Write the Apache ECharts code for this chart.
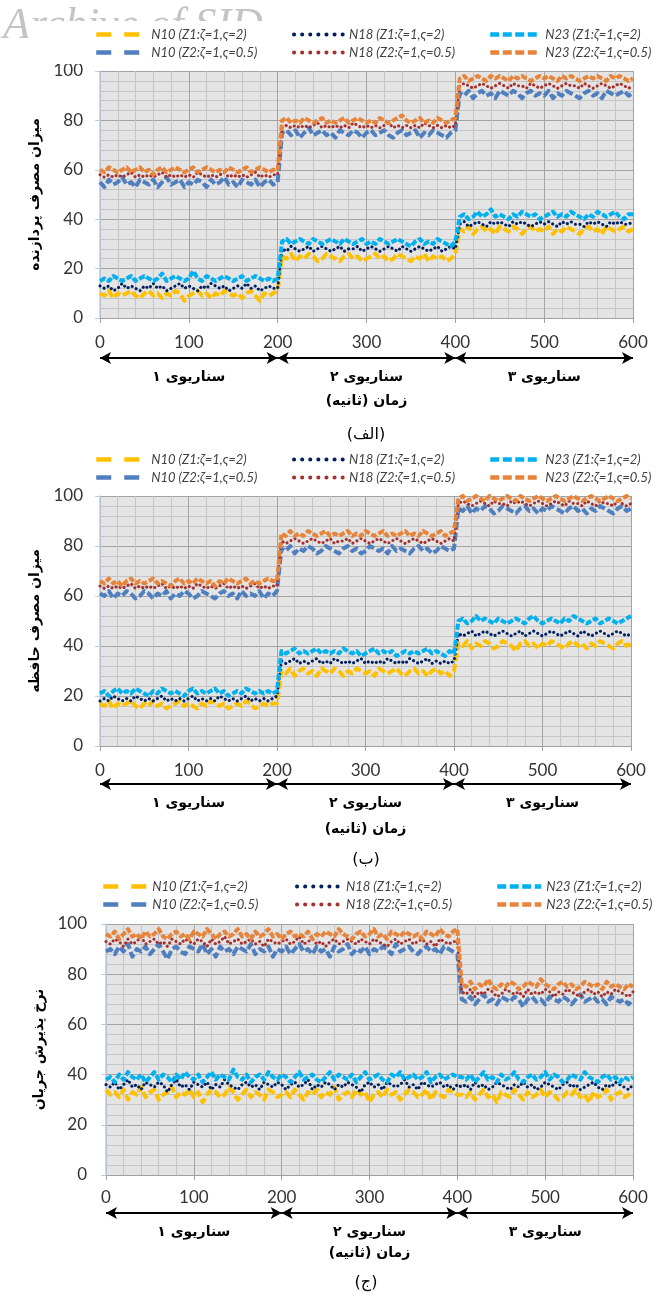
<!DOCTYPE html>
<html><head><meta charset="utf-8">
<script src="https://cdn.jsdelivr.net/npm/echarts/dist/echarts.min.js"></script>
<style>html,body{margin:0;padding:0;background:#fff}#c{width:657px;height:1303px}</style>
</head><body><div id="c"></div>
<script>
// ---------- DATA ----------
const time = [0,5,10,15,20,25,30,35,40,45,50,55,60,65,70,75,80,85,90,95,100,105,110,115,120,125,130,135,140,145,150,155,160,165,170,175,180,185,190,195,200,205,210,215,220,225,230,235,240,245,250,255,260,265,270,275,280,285,290,295,300,305,310,315,320,325,330,335,340,345,350,355,360,365,370,375,380,385,390,395,400,405,410,415,420,425,430,435,440,445,450,455,460,465,470,475,480,485,490,495,500,505,510,515,520,525,530,535,540,545,550,555,560,565,570,575,580,585,590,595,600];

const seriesNames = ['N10 (Z1:ζ=1,ς=2)','N18 (Z1:ζ=1,ς=2)','N23 (Z1:ζ=1,ς=2)','N10 (Z2:ζ=1,ς=0.5)','N18 (Z2:ζ=1,ς=0.5)','N23 (Z2:ζ=1,ς=0.5)'];
const xTicks = [0,100,200,300,400,500,600];
const yTicks = [0,20,40,60,80,100];
const scenarioBounds = [0,200,400,600];
const scenarioNames = ['سناریوی ۱','سناریوی ۲','سناریوی ۳'];
const xAxisName = '\u200Fزمان (ثانیه)\u200F';
const yAxisNames = ['میزان مصرف پردازنده','میزان مصرف حافظه','نرخ پذیرش جریان'];
const captions = ['(الف)','(ب)','(ج)'];

// Chart (الف) CPU usage
const cpuN10Z1 = [10,9,11,8,10,9,10,11,9,8, 10,11,9,10,8,10,9,11,10,7, 9,10,11,9,10,8,10,9,11,10, 9,10,8,10,11,9,7,10,9,10, 11,
 25,24,26,23,25,24,26,25,23,24, 26,25,24,23,25,26,24,25,23,24, 25,26,24,25,23,24,26,25,24,23, 25,24,26,23,25,24,25,23,24,26,
 36,35,37,34,36,37,35,36,34,37, 36,35,37,36,34,36,37,35,36,35, 37,34,36,35,37,36,35,34,36,37, 35,36,34,37,36,35,36,37,35,36];
const cpuN18Z1 = [13,12,13,11,12,14,12,13,12,11, 13,12,14,12,13,11,12,13,14,12, 13,12,11,13,12,14,13,12,13,11, 12,13,12,14,12,13,11,12,13,12, 12,
 28,27,29,28,27,28,29,27,28,29, 28,27,28,29,27,28,28,29,27,28, 29,28,27,28,29,28,27,29,28,27, 28,29,28,27,28,29,27,28,29,28,
 38,39,37,38,39,38,37,39,38,39, 38,37,39,38,39,38,37,38,39,38, 39,38,37,39,38,39,38,38,37,39, 38,39,38,37,39,38,39,38,38,39];
const cpuN23Z1 = [15,16,15,17,16,15,16,17,15,16, 17,16,15,16,18,15,16,17,16,15, 16,19,16,15,17,16,15,16,17,16, 15,16,17,15,16,17,16,15,16,15, 16,
 31,32,30,31,32,31,30,32,31,30, 31,32,31,30,32,31,30,31,32,30, 31,30,32,31,30,31,32,31,30,29, 31,32,30,31,30,32,31,30,29,31,
 41,42,40,41,43,41,42,44,41,42, 41,40,42,41,43,42,41,42,40,41, 42,43,41,42,41,43,42,41,40,42, 41,43,42,41,42,43,41,40,42,42];
const cpuN10Z2 = [55,53,56,54,55,57,54,55,53,56, 55,54,56,53,55,57,54,55,56,53, 55,54,56,55,53,56,54,55,57,54, 55,53,56,55,54,56,53,55,56,54, 55,
 75,76,74,76,73,75,77,74,75,76, 74,75,73,76,75,74,76,75,73,75, 76,74,75,76,74,73,75,76,74,75, 76,73,75,74,76,75,74,73,75,76,
 91,90,92,89,91,92,90,91,89,92, 91,90,92,91,89,91,92,90,91,90, 92,89,91,90,92,91,90,89,91,92, 90,91,89,92,91,90,91,92,90,91];
const cpuN18Z2 = [58,57,58,57,58,57,58,59,57,58, 57,58,57,58,59,57,58,57,58,57, 58,57,59,58,57,58,57,58,59,57, 58,57,58,57,58,59,57,58,57,58, 58,
 77,78,77,78,77,78,77,78,79,77, 78,77,78,77,78,77,79,78,77,78, 77,78,77,78,79,77,78,77,78,77, 78,77,79,78,77,78,77,78,77,78,
 94,95,94,93,94,95,94,93,94,95, 94,93,95,94,94,93,95,94,93,94, 95,94,93,94,95,94,94,93,95,94, 93,94,95,94,93,94,95,94,93,94];
const cpuN23Z2 = [60,59,61,60,59,60,61,59,60,61, 59,60,58,60,61,59,60,61,60,59, 60,61,59,60,61,60,59,60,59,61, 60,59,60,61,59,60,61,60,59,60, 60,
 80,81,79,80,79,81,80,79,80,81, 79,80,79,80,81,79,80,81,80,79, 80,79,81,80,79,80,81,82,80,79, 80,81,79,80,79,81,80,79,80,81,
 97,98,96,97,98,97,96,98,97,98, 97,96,98,97,98,97,96,97,98,97, 98,97,96,98,97,98,97,96,97,98, 97,98,97,96,98,97,98,97,96,97];

// Chart (ب) memory usage
const memN10Z1 = [17,16,18,15,17,16,17,18,16,15, 17,16,18,16,17,15,16,17,18,16, 17,16,15,17,16,18,17,16,17,15, 16,17,16,18,17,15,16,17,16,17, 17,
 30,29,31,28,30,31,29,30,28,31, 30,29,31,30,28,30,29,31,30,29, 30,28,31,30,29,30,31,29,28,30, 31,29,30,28,30,31,29,30,28,30,
 41,40,42,39,41,40,42,41,39,40, 42,41,40,38,41,42,40,41,39,41, 40,42,41,40,39,41,42,40,41,39, 41,40,42,41,40,39,41,42,40,41];
const memN18Z1 = [18,19,18,20,19,18,19,18,20,19, 18,19,18,19,20,18,19,18,19,18, 19,20,18,19,18,19,18,20,19,18, 19,18,19,20,18,19,18,19,18,19, 20,
 34,33,34,35,33,34,33,34,35,33, 34,33,35,34,33,34,33,34,35,33, 34,33,34,33,35,34,33,34,33,35, 34,33,34,35,33,34,33,34,33,34,
 45,44,45,46,44,45,46,45,44,45, 46,45,44,45,46,44,45,46,45,44, 45,46,45,44,45,46,45,44,46,45, 44,45,46,45,44,45,46,45,44,45];
const memN23Z1 = [21,22,20,22,23,21,22,21,23,22, 21,20,22,21,23,22,21,22,21,20, 22,23,21,22,21,22,23,21,22,20, 21,22,21,23,22,21,22,21,22,21, 22,
 38,37,38,39,37,38,37,38,39,37, 38,37,38,37,39,38,37,38,36,37, 38,39,37,38,37,38,36,37,38,37, 38,37,38,39,37,38,37,36,38,37,
 50,51,49,50,52,50,51,50,49,51, 50,49,50,51,50,49,51,52,50,49, 50,51,50,49,51,50,52,51,50,49, 50,51,49,50,51,50,49,50,51,52];
const memN10Z2 = [61,60,62,59,61,60,62,61,59,60, 62,61,59,61,60,62,59,61,60,62, 61,59,60,62,61,60,59,61,62,60, 61,59,62,60,61,60,62,59,61,60, 62,
 79,78,80,77,79,78,80,79,77,78, 80,79,78,77,79,80,78,79,77,78, 80,79,78,79,77,80,78,79,78,77, 79,80,78,79,77,78,80,79,78,79,
 95,94,96,93,95,94,96,95,93,94, 96,95,94,93,95,96,94,95,93,95, 94,96,95,94,93,95,96,94,95,93, 95,94,96,95,94,93,95,96,94,95];
const memN18Z2 = [64,63,64,63,64,63,64,65,63,64, 63,64,63,64,65,63,64,63,64,63, 64,63,65,64,63,64,63,64,65,63, 64,63,64,63,64,65,63,64,63,64, 64,
 82,81,82,83,82,81,82,83,82,81, 82,83,81,82,82,83,81,82,83,82, 81,82,83,82,81,82,83,82,81,82, 83,82,81,82,83,82,81,82,83,82,
 97,98,97,96,97,98,97,96,98,97, 97,96,98,97,98,97,96,97,98,97, 96,97,98,97,96,98,97,97,96,98, 97,96,98,97,97,96,98,97,96,97];
const memN23Z2 = [66,65,67,65,66,64,66,67,65,66, 65,66,67,65,66,65,64,66,67,65, 66,65,67,66,65,66,64,66,65,67, 66,65,66,67,65,66,65,66,67,66, 66,
 85,84,86,84,85,84,86,85,84,85, 86,84,85,84,85,86,84,85,84,86, 85,84,85,86,84,85,84,85,86,84, 85,84,86,85,84,85,86,84,85,86,
 99,100,98,99,100,99,98,100,99,98, 99,100,99,98,100,99,98,99,100,99, 98,99,100,99,98,99,100,99,98,99, 100,99,98,99,100,99,98,99,100,99];

// Chart (ج) flow acceptance rate
const frN10Z1 = [34,32,33,31,34,30,33,32,35,31, 33,34,30,32,33,35,31,33,32,34, 31,33,29,32,34,33,31,32,35,33, 30,32,34,31,33,32,30,34,33,31, 32,33,31,34,32,30,33,32,34,31, 33,32,35,30,32,33,31,34,32,33, 29,32,33,31,34,32,33,30,32,34, 33,31,32,34,30,33,32,31,34,33, 32,
 32,31,33,30,32,34,31,32,29,33, 32,31,34,32,30,33,31,32,34,31, 33,32,30,31,33,32,34,31,32,29, 33,31,32,34,30,32,33,31,32,31];
const frN18Z1 = [36,35,37,34,36,38,35,36,34,37, 36,35,37,36,33,36,38,35,36,34, 37,36,35,37,34,36,35,38,36,35, 34,36,37,35,36,34,37,36,35,37, 36,34,36,37,35,36,38,34,36,35, 37,36,34,36,35,37,36,35,33,36, 37,35,36,34,37,36,35,36,38,35, 36,34,37,36,35,36,37,35,36,34, 36,
 35,36,34,37,35,36,34,35,37,36, 35,34,36,35,37,35,36,34,35,37, 36,35,34,36,37,35,36,34,35,36, 37,35,34,36,35,37,36,35,34,36];
const frN23Z1 = [38,39,37,40,38,41,39,38,40,37, 39,41,38,40,39,37,40,38,41,39, 38,40,37,39,41,38,40,39,38,42, 39,38,40,37,39,40,38,41,39,38, 40,39,37,39,41,38,39,40,38,37, 39,41,38,40,39,38,40,37,39,41, 38,39,40,38,37,40,39,41,38,39, 40,38,39,41,37,39,40,38,39,40, 39,
 39,38,40,37,39,41,38,39,37,40, 38,39,41,38,37,39,40,38,39,41, 38,40,39,37,38,40,39,38,41,39, 38,37,39,40,38,39,37,39,38,39];
const frN10Z2 = [89,90,88,91,89,92,87,90,89,91, 88,90,92,89,86,90,91,89,88,91, 90,89,92,88,90,87,91,89,90,88, 91,90,89,92,88,90,89,91,87,90, 89,91,88,90,92,89,90,88,91,89, 90,87,91,89,90,92,88,90,89,91, 88,90,89,91,90,88,92,89,90,91, 89,88,90,91,89,90,88,91,90,89, 88,
 70,69,71,68,70,72,69,70,68,71, 70,69,71,70,67,70,71,69,70,68, 71,70,69,71,70,68,70,72,69,70, 71,69,70,68,71,70,69,70,68,70];
const frN18Z2 = [93,92,94,93,91,94,92,93,95,92, 93,94,92,93,91,94,93,92,94,93, 92,94,93,91,94,92,93,95,92,93, 94,92,93,94,92,93,91,94,93,92, 93,94,92,93,95,92,93,94,92,93, 91,93,94,92,93,94,93,92,94,93, 92,94,93,92,91,93,94,92,93,94, 92,93,94,92,93,91,94,93,92,93, 93,
 73,72,74,71,73,72,74,73,71,72, 74,73,72,73,71,74,72,73,72,74, 73,71,73,72,74,73,72,71,73,74, 72,73,71,73,72,74,73,72,71,73];
const frN23Z2 = [96,95,97,94,96,98,95,96,94,97, 95,96,98,95,94,96,97,95,96,94, 97,96,95,98,96,94,96,97,95,96, 98,95,96,94,97,95,96,98,95,96, 94,96,97,95,96,95,97,94,96,95, 97,96,95,98,96,95,94,96,97,95, 96,98,95,96,94,97,96,95,97,96, 95,96,94,97,96,95,98,96,95,97, 98,
 76,75,77,74,76,75,78,75,74,76, 75,77,76,74,75,77,76,75,78,76, 75,74,76,77,75,76,74,75,77,76, 75,76,74,77,75,76,75,74,76,75];

const chartData = [
  [cpuN10Z1, cpuN18Z1, cpuN23Z1, cpuN10Z2, cpuN18Z2, cpuN23Z2],
  [memN10Z1, memN18Z1, memN23Z1, memN10Z2, memN18Z2, memN23Z2],
  [frN10Z1, frN18Z1, frN23Z1, frN10Z2, frN18Z2, frN23Z2]
];

// ---------- STYLE / LAYOUT ----------
const colors = ['#FFC000','#002060','#00B0F0','#4F7FBF','#A5302E','#E8843A'];
const lineStyles = [
  {width:4, type:[8,3], cap:'butt', join:'round'},
  {width:3, type:[0.1,4.5], cap:'round', join:'round'},
  {width:4, type:[6,2], cap:'butt', join:'round'}
];
const legendIcon = [
  {width:4.5, type:[15,13], cap:'butt'},
  {width:4, type:[0.1,8], cap:'round'},
  {width:4.5, type:[9,3.5], cap:'butt'}
];
const grids = [
  {left:100, top:71, width:533, height:247},
  {left:100, top:496, width:531, height:250},
  {left:106, top:924, width:527, height:251}
];
const arrowY = [358, 784, 1213];
const yLabelMargin = [17, 17, 19];
const xLabelMargin = [16, 16, 14];
const xNameGap = [76, 76, 71];
const yNameGap = [47, 47, 58];
const legendTop = [23, 448, 875];
const legendItemWidth = [50, 50, 44];
const legendLefts = [[89,287,483],[89,287,483],[96,290,490]];
const captionY = [435, 860, 1283];

const numFont = 'Lato, "Open Sans", "DejaVu Sans", sans-serif';
const faFont = '"DejaVu Sans", sans-serif';

const option = {
  animation:false,
  backgroundColor:'#fff',
  grid:[], xAxis:[], yAxis:[], series:[], legend:[],
  graphic:[
    {type:'text', left:3, top:4, z:0, silent:true,
     style:{text:'Archive of SID', font:'italic 44px "Liberation Serif", serif', fill:'#c4c4c4'}},
    {type:'rect', z:1, silent:true, shape:{x:28, y:21, width:629, height:43}, style:{fill:'#fff'}}
  ]
};

for (let g=0; g<3; g++){
  const mi = 2*g, ai = 2*g+1;
  option.grid.push(Object.assign({show:true, backgroundColor:'#e4e4e4', borderWidth:0, containLabel:false, outerBoundsMode:'none'}, grids[g]));
  option.xAxis.push({
    gridIndex:mi, type:'value', min:xTicks[0], max:xTicks[xTicks.length-1], interval:xTicks[1]-xTicks[0],
    axisLine:{show:true, onZero:false, lineStyle:{color:'#a0a0a0', width:1}},
    axisTick:{show:true, length:5, lineStyle:{color:'#a0a0a0'}},
    axisLabel:{margin:xLabelMargin[g], fontFamily:numFont, fontSize:17, color:'#333'},
    splitLine:{show:true, lineStyle:{color:'#a3a3a3', width:1}},
    minorTick:{show:false, splitNumber:5},
    minorSplitLine:{show:true, lineStyle:{color:'#c5c5c5', width:1}},
    name:xAxisName, nameLocation:'middle', nameGap:xNameGap[g],
    nameTextStyle:{fontFamily:faFont, fontWeight:'bold', fontSize:14, color:'#000'}
  });
  option.yAxis.push({
    gridIndex:mi, type:'value', min:yTicks[0], max:yTicks[yTicks.length-1], interval:yTicks[1]-yTicks[0],
    axisLine:{show:true, lineStyle:{color:'#b9cde5', width:1.5}},
    axisTick:{show:true, length:5, lineStyle:{color:'#b9cde5'}},
    axisLabel:{margin:yLabelMargin[g], fontFamily:numFont, fontSize:17, color:'#333'},
    splitLine:{show:true, lineStyle:{color:'#a3a3a3', width:1}},
    minorTick:{show:false, splitNumber:5},
    minorSplitLine:{show:true, lineStyle:{color:'#c5c5c5', width:1}},
    name:yAxisNames[g], nameLocation:'middle', nameGap:yNameGap[g], nameRotate:90,
    nameTextStyle:{fontFamily:faFont, fontWeight:'bold', fontSize:14, color:'#000'}
  });
  chartData[g].forEach((arr,k)=>{
    option.series.push({
      name:seriesNames[k], type:'line', xAxisIndex:mi, yAxisIndex:mi,
      symbol:'none', showSymbol:false, silent:true, z:2+k,
      color:colors[k],
      lineStyle:Object.assign({color:colors[k]}, lineStyles[k%3]),
      data:time.map((t,i)=>[t, arr[i]]).filter(p=>p[1]!==undefined)
    });
  });
  [[0,3],[1,4],[2,5]].forEach((pair,c)=>{
    option.legend.push({
      orient:'vertical', left:legendLefts[g][c], top:legendTop[g], itemGap:5,
      itemWidth:legendItemWidth[g], itemHeight:14, selectedMode:false, z:5,
      itemStyle:{opacity:0},
      textStyle:{fontFamily:numFont, fontStyle:'italic', fontSize:13, color:'#404040'},
      data:pair.map(k=>({name:seriesNames[k], lineStyle:Object.assign({color:colors[k]}, legendIcon[k%3]), itemStyle:{opacity:0}}))
    });
  });
  // annotation row: scenario arrows
  option.grid.push({left:grids[g].left, width:grids[g].width, top:arrowY[g]-10, height:20, show:false, outerBoundsMode:'none'});
  option.xAxis.push({gridIndex:ai, type:'value', min:xTicks[0], max:xTicks[xTicks.length-1], show:false});
  option.yAxis.push({gridIndex:ai, type:'value', min:-1, max:1, show:false});
  option.series.push({
    type:'line', xAxisIndex:ai, yAxisIndex:ai, data:[], silent:true, symbol:'none',
    markLine:{
      silent:true, animation:false, symbol:['arrow','arrow'], symbolSize:[9,11],
      lineStyle:{color:'#000', width:2, type:'solid'},
      emphasis:{disabled:true},
      label:{show:true, position:'insideMiddleBottom', distance:12, formatter:p=>p.name,
             fontFamily:faFont, fontWeight:'bold', fontSize:14, color:'#000'},
      data:scenarioNames.map((nm,s)=>[{coord:[scenarioBounds[s],0], name:nm},{coord:[scenarioBounds[s+1],0]}])
    }
  });
  option.graphic.push({type:'text', x:366, y:captionY[g], silent:true,
    style:{text:captions[g], align:'center', verticalAlign:'middle', font:'16px "DejaVu Sans", sans-serif', fill:'#000'}});
}

const chart = echarts.init(document.getElementById('c'), null, {renderer:'canvas'});
chart.setOption(option);
</script></body></html>
